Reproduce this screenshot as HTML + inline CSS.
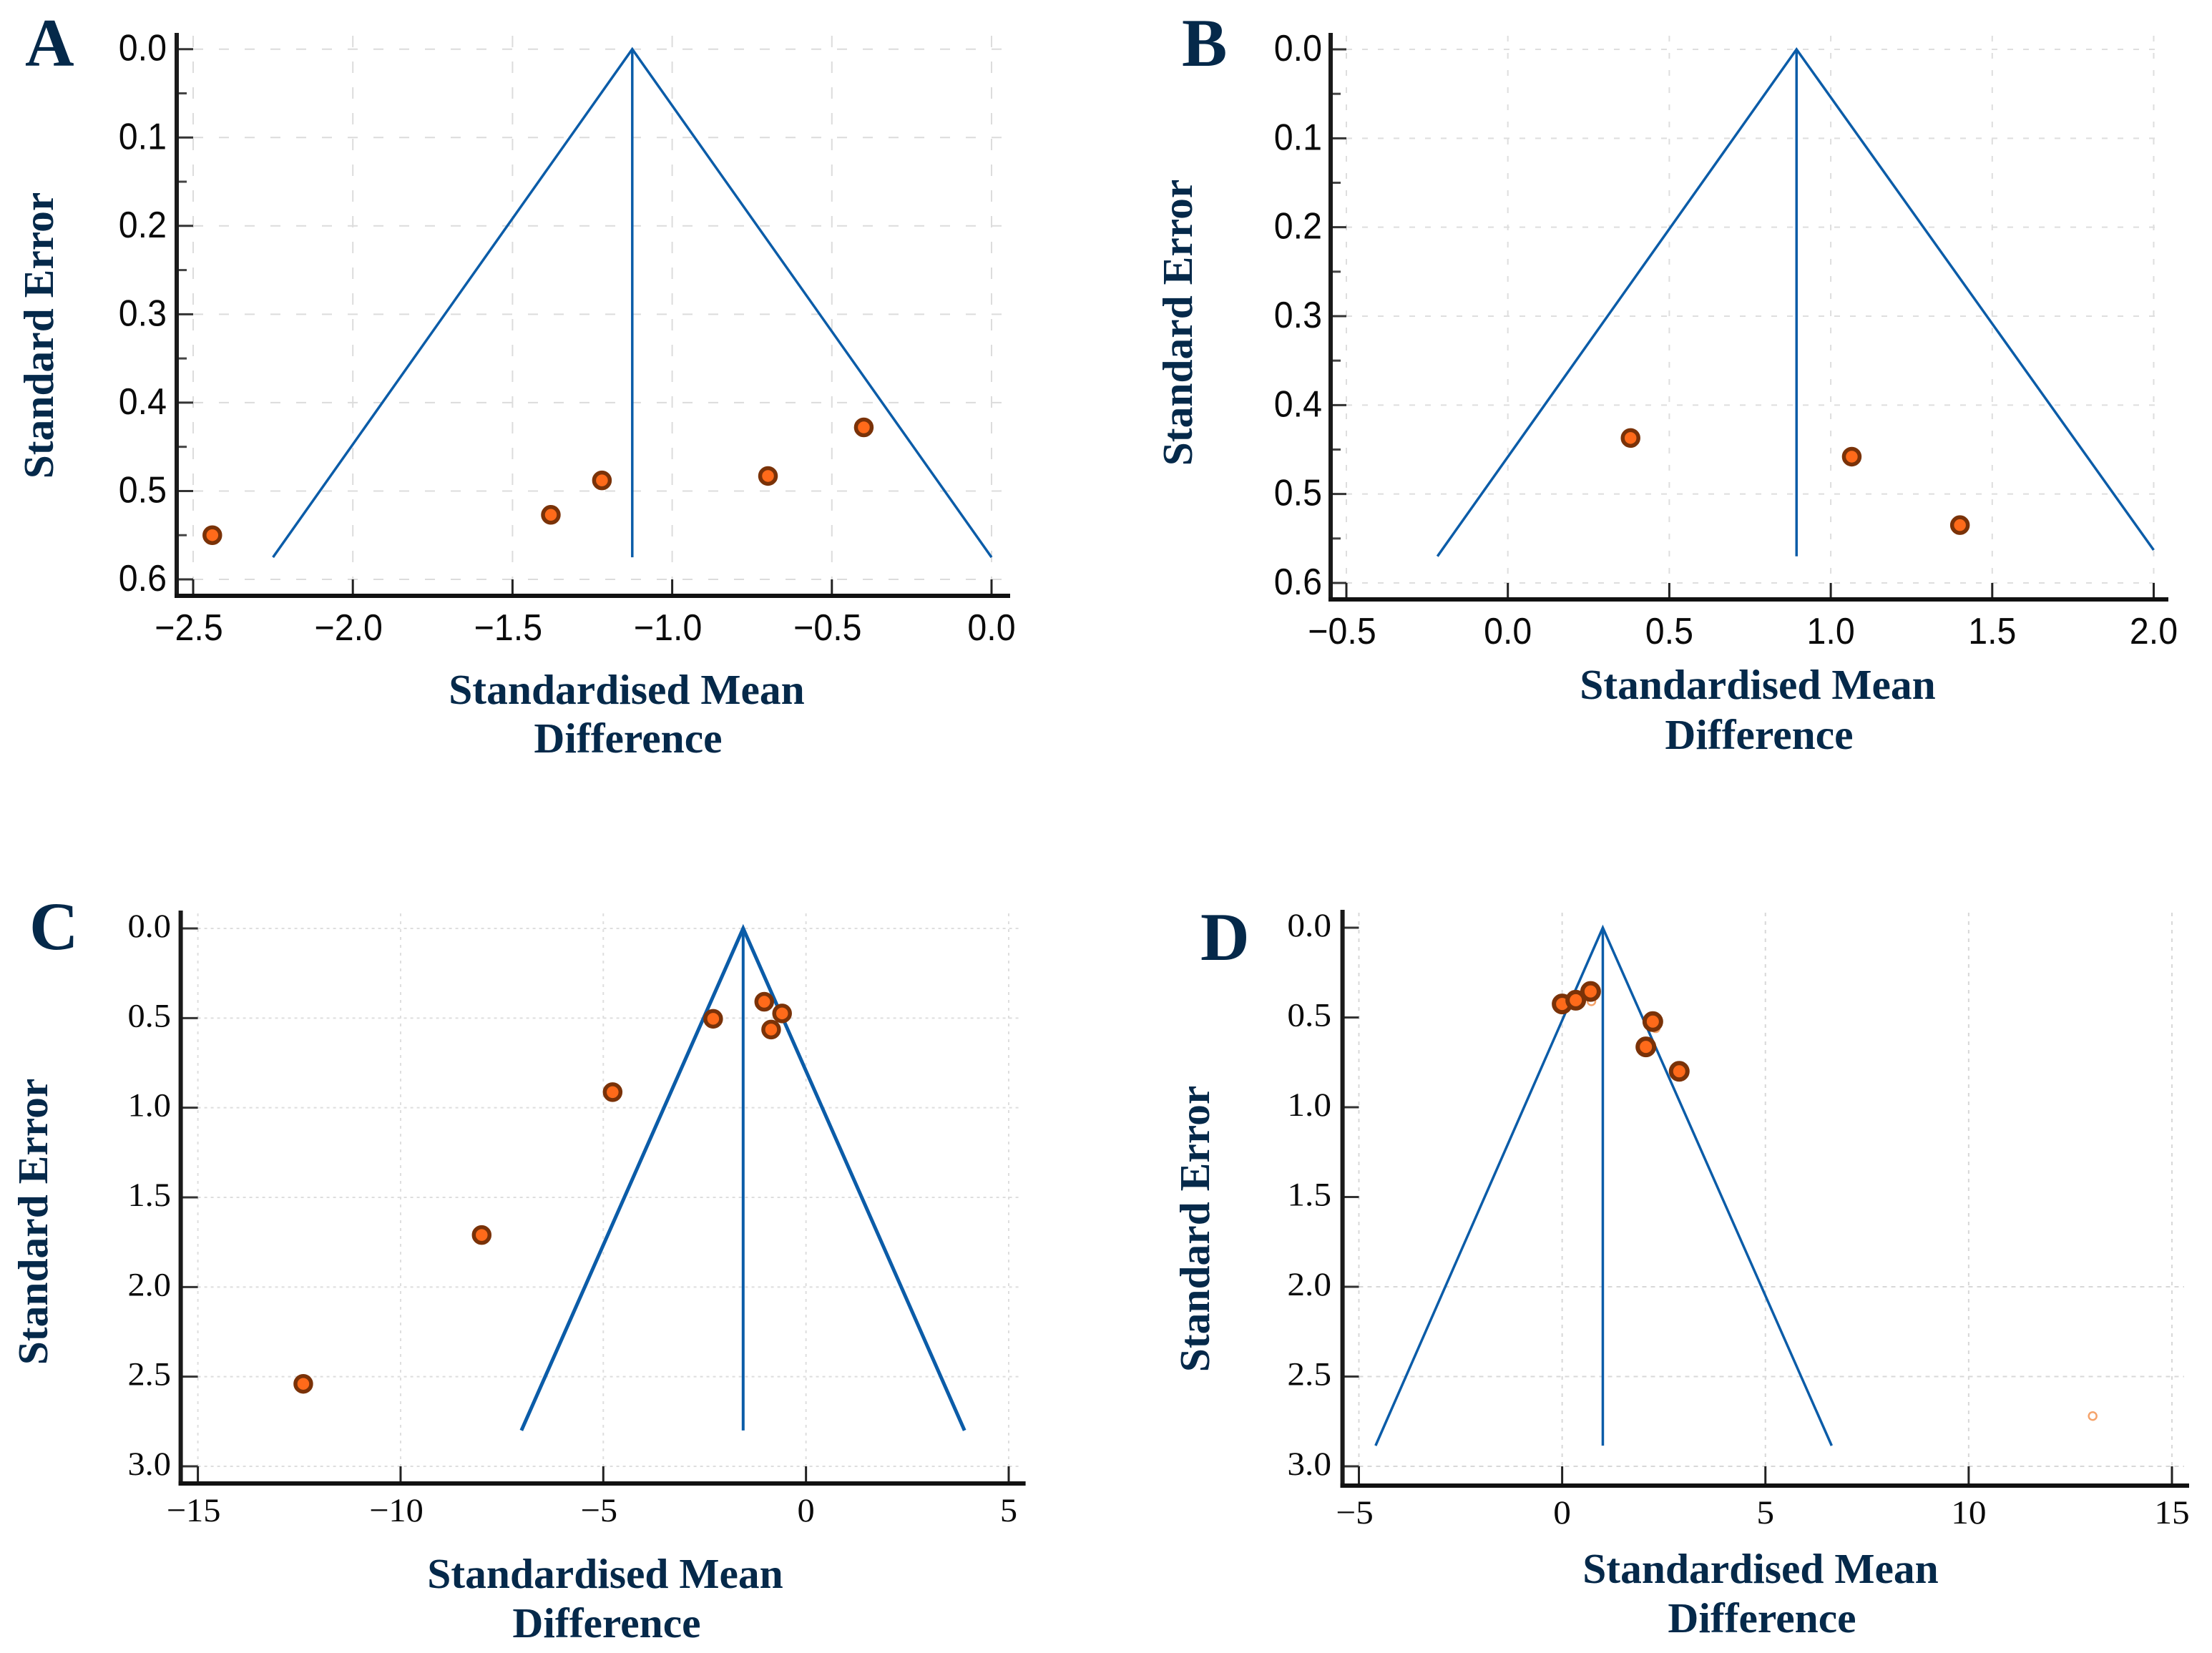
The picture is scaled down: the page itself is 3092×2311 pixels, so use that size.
<!DOCTYPE html>
<html lang="en">
<head>
<meta charset="utf-8">
<title>Funnel plots A–D</title>
<style>
html,body{margin:0;padding:0;background:#fff;}
svg{display:block;position:absolute;left:0;top:0;}
</style>
</head>
<body>
<svg id="figure" xmlns="http://www.w3.org/2000/svg" width="3092" height="2311" viewBox="0 0 3092 2311"></svg>
<script>
// ---- Panel A data ----
const aEffect = [-2.44, -1.38, -1.22, -0.70, -0.40];
const aSE = [0.55, 0.527, 0.488, 0.483, 0.428];
const aFunnelX = [-2.25, -1.125, 0.0];
const aFunnelSE = [0.575, 0, 0.575];
const aXTicks = [-2.5, -2.0, -1.5, -1.0, -0.5, 0.0];
const aXLabels = ["−2.5", "−2.0", "−1.5", "−1.0", "−0.5", "0.0"];
const aYTicks = [0, 0.1, 0.2, 0.3, 0.4, 0.5, 0.6];
const aYLabels = ["0.0", "0.1", "0.2", "0.3", "0.4", "0.5", "0.6"];
const aYMinor = [0.05, 0.15, 0.25, 0.35, 0.45, 0.55];
const aGridY = [0, 0.1, 0.2, 0.3, 0.4, 0.5, 0.6];

// ---- Panel B data ----
const bEffect = [0.38, 1.065, 1.40];
const bSE = [0.437, 0.458, 0.535];
const bFunnelX = [-0.218, 0.894, 2.0];
const bFunnelSE = [0.57, 0, 0.563];
const bXTicks = [-0.5, 0, 0.5, 1.0, 1.5, 2.0];
const bXLabels = ["−0.5", "0.0", "0.5", "1.0", "1.5", "2.0"];
const bYTicks = [0, 0.1, 0.2, 0.3, 0.4, 0.5, 0.6];
const bYLabels = ["0.0", "0.1", "0.2", "0.3", "0.4", "0.5", "0.6"];
const bYMinor = [0.05, 0.15, 0.25, 0.35, 0.45, 0.55];
const bGridY = [0, 0.1, 0.2, 0.3, 0.4, 0.5, 0.6];

// ---- Panel C data ----
const cEffect = [-12.4, -8.0, -4.77, -2.29, -1.03, -0.59, -0.86];
const cSE = [2.54, 1.71, 0.913, 0.504, 0.409, 0.474, 0.564];
const cFunnelX = [-7.02, -1.55, 3.91];
const cFunnelSE = [2.8, 0, 2.8];
const cXTicks = [-15, -10, -5, 0, 5];
const cXLabels = ["−15", "−10", "−5", "0", "5"];
const cYTicks = [0, 0.5, 1.0, 1.5, 2.0, 2.5, 3.0];
const cYLabels = ["0.0", "0.5", "1.0", "1.5", "2.0", "2.5", "3.0"];
const cYMinor = [];
const cGridY = [0, 0.5, 1.0, 1.5, 2.0, 2.5, 3.0];

// ---- Panel D data ----
const dEffect = [0, 0.335, 0.70, 2.23, 2.06, 2.88];
const dSE = [0.425, 0.404, 0.355, 0.523, 0.664, 0.80];
const dHollowEffect = [13.05, 0.72, 2.3];
const dHollowSE = [2.72, 0.41, 0.56];
const dFunnelX = [-4.59, 1.0, 6.63];
const dFunnelSE = [2.885, 0, 2.885];
const dXTicks = [-5, 0, 5, 10, 15];
const dXLabels = ["−5", "0", "5", "10", "15"];
const dYTicks = [0, 0.5, 1.0, 1.5, 2.0, 2.5, 3.0];
const dYLabels = ["0.0", "0.5", "1.0", "1.5", "2.0", "2.5", "3.0"];
const dYMinor = [];
const dGridY = [2.0, 2.5, 3.0];

const NS = "http://www.w3.org/2000/svg";
const figure = document.getElementById("figure");
const SANS = '"Liberation Sans", Arial, sans-serif';
const SERIF = '"Liberation Serif", "Times New Roman", serif';
const NAVY = "#05294a";
const BLUE = "#0b5ca8";

function make(tag, parent, props) {
  const el = document.createElementNS(NS, tag);
  for (const k in props) el.setAttribute(k, props[k]);
  parent.appendChild(el);
  return el;
}

function drawPanel(p) {
  // axis functions: calibrated from two reference ticks
  const xAxis = v => p.xPx0 + (v - p.xV0) * (p.xPx1 - p.xPx0) / (p.xV1 - p.xV0);
  const yAxis = v => p.yPx0 + (v - p.yV0) * (p.yPx1 - p.yPx0) / (p.yV1 - p.yV0);

  const g = make("g", figure, {});
  
  

  // gridlines
  p.gridY.forEach(v => {
    const l = make("line", g, {x1: xAxis(p.xTicks[0]), x2: p.right - 7, y1: yAxis(v), y2: yAxis(v), stroke: p.gridColor, "stroke-width": 2, "stroke-dasharray": p.gridDash});
    
    
  });
  p.xTicks.forEach(v => {
    const l = make("line", g, {x1: xAxis(v), x2: xAxis(v), y1: p.top + 4, y2: p.bottom, stroke: p.gridColor, "stroke-width": 2, "stroke-dasharray": p.gridDashV});
    
    
  });

  // funnel
  const funnelPts = p.funnelX.map((v, i) => xAxis(v) + "," + yAxis(p.funnelSE[i])).join(" ");
  const funnel = make("polyline", g, {points: funnelPts, fill: "none", stroke: BLUE, "stroke-width": p.lineW, "stroke-linejoin": "miter"});
  
  
  const mid = make("line", g, {x1: xAxis(p.funnelX[1]), x2: xAxis(p.funnelX[1]), y1: yAxis(0), y2: yAxis(Math.max(p.funnelSE[0], p.funnelSE[2])), stroke: BLUE, "stroke-width": p.midW});
  
  

  // ticks
  p.yTicks.forEach((v, i) => {
    const t = make("line", g, {x1: p.axisX, x2: xAxis(p.xTicks[0]), y1: yAxis(v), y2: yAxis(v), stroke: "#333", "stroke-width": 3});
    
    
    const lab = make("text", g, {transform: "translate(" + p.yLabelX + "," + (yAxis(v) + p.yLabelDy) + ") scale(" + p.labelScale + ",1)", "text-anchor": "end", "font-family": p.labelFont, "font-size": p.labelSize, fill: "#0a0a0a"});
    lab.textContent = p.yLabels[i];
    
    
  });
  p.yMinor.forEach(v => {
    const t = make("line", g, {x1: p.axisX, x2: p.axisX + 14, y1: yAxis(v), y2: yAxis(v), stroke: "#444", "stroke-width": 3});
    
    
  });
  p.xTicks.forEach((v, i) => {
    const t = make("line", g, {x1: xAxis(v), x2: xAxis(v), y1: p.bottom, y2: yAxis(p.yTicks[p.yTicks.length - 1]), stroke: "#222", "stroke-width": 3});
    
    
    const lab = make("text", g, {transform: "translate(" + (xAxis(v) + (v < 0 ? -6 : 0)) + "," + p.xLabelY + ") scale(" + p.labelScale + ",1)", "text-anchor": "middle", "font-family": p.labelFont, "font-size": p.labelSize, fill: "#0a0a0a"});
    lab.textContent = p.xLabels[i];
    
    
  });

  // axes
  const ya = make("line", g, {x1: p.axisX, x2: p.axisX, y1: p.top, y2: p.bottom + 3, stroke: "#1a1a1a", "stroke-width": 6});
  
  
  const xa = make("line", g, {x1: p.axisX - 3, x2: p.right, y1: p.bottom, y2: p.bottom, stroke: "#111", "stroke-width": 6});
  
  

  // hollow studies (trim and fill)
  (p.hollowEffect || []).forEach((v, i) => {
    const c = make("circle", g, {cx: xAxis(v), cy: yAxis(p.hollowSE[i]), r: 5.5, fill: "#fff", stroke: "#f5a36b", "stroke-width": 2.5});
    
    
  });
  // points
  p.effect.forEach((v, i) => {
    const c = make("circle", g, {cx: xAxis(v), cy: yAxis(p.se[i]), r: p.markerR, fill: "#ff6a1a", stroke: "#7a3208", "stroke-width": p.markerW});
    
    
  });

  // titles
  const letter = make("text", g, {x: p.letterX, y: p.letterY, "font-family": SERIF, "font-weight": "bold", "font-size": 95, fill: NAVY});
  letter.textContent = p.id.toUpperCase();
  
  

  const yt = make("text", g, {transform: "translate(" + p.yTitleX + "," + p.yTitleY + ") rotate(-90)", "text-anchor": "middle", "font-family": SERIF, "font-weight": "bold", "font-size": 59.5, fill: NAVY});
  yt.textContent = "Standard Error";
  
  

  const xt1 = make("text", g, {x: p.xTitleX, y: p.xTitleY1, "text-anchor": "middle", "font-family": SERIF, "font-weight": "bold", "font-size": 59.5, fill: NAVY});
  xt1.textContent = "Standardised Mean";
  
  
  const xt2 = make("text", g, {x: p.xTitleX + 2, y: p.xTitleY2, "text-anchor": "middle", "font-family": SERIF, "font-weight": "bold", "font-size": 59.5, fill: NAVY});
  xt2.textContent = "Difference";
  
  
}

drawPanel({id: "a", effect: aEffect, se: aSE, funnelX: aFunnelX, funnelSE: aFunnelSE,
  xTicks: aXTicks, xLabels: aXLabels, yTicks: aYTicks, yLabels: aYLabels, yMinor: aYMinor, gridY: aGridY,
  xV0: -2.5, xV1: 0, xPx0: 270, xPx1: 1386, yV0: 0, yV1: 0.6, yPx0: 68.7, yPx1: 810,
  axisX: 247, top: 46, bottom: 833, right: 1412,
  labelFont: SANS, labelSize: 52, labelScale: 0.93, yLabelX: 233, yLabelDy: 16, xLabelY: 895,
  gridColor: "#dcdcdc", gridDash: "14 22", gridDashV: "16 20", lineW: 3.5, midW: 3.5, markerR: 11, markerW: 5.5,
  letterX: 35, letterY: 92, yTitleX: 74, yTitleY: 469, xTitleX: 876, xTitleY1: 984, xTitleY2: 1052});

drawPanel({id: "b", effect: bEffect, se: bSE, funnelX: bFunnelX, funnelSE: bFunnelSE,
  xTicks: bXTicks, xLabels: bXLabels, yTicks: bYTicks, yLabels: bYLabels, yMinor: bYMinor, gridY: bGridY,
  xV0: -0.5, xV1: 2.0, xPx0: 1882, xPx1: 3010.5, yV0: 0, yV1: 0.6, yPx0: 69, yPx1: 815,
  axisX: 1860, top: 46, bottom: 838, right: 3031,
  labelFont: SANS, labelSize: 52, labelScale: 0.93, yLabelX: 1848, yLabelDy: 16, xLabelY: 900,
  gridColor: "#dedede", gridDash: "8 14", gridDashV: "8 16", lineW: 3.5, midW: 3.5, markerR: 11, markerW: 5.5,
  letterX: 1652, letterY: 92, yTitleX: 1666, yTitleY: 451, xTitleX: 2457, xTitleY1: 977, xTitleY2: 1047});

drawPanel({id: "c", effect: cEffect, se: cSE, funnelX: cFunnelX, funnelSE: cFunnelSE,
  xTicks: cXTicks, xLabels: cXLabels, yTicks: cYTicks, yLabels: cYLabels, yMinor: cYMinor, gridY: cGridY,
  xV0: -15, xV1: 5, xPx0: 276.6, xPx1: 1410, yV0: 0, yV1: 3, yPx0: 1298, yPx1: 2050,
  axisX: 252.6, top: 1273, bottom: 2074, right: 1433.6,
  labelFont: SERIF, labelSize: 47, labelScale: 1.03, yLabelX: 239, yLabelDy: 12, xLabelY: 2127,
  gridColor: "#dedede", gridDash: "4 5", gridDashV: "4 7", lineW: 5, midW: 4, markerR: 11, markerW: 5.5,
  letterX: 41, letterY: 1327, yTitleX: 66, yTitleY: 1708, xTitleX: 846, xTitleY1: 2220, xTitleY2: 2289});

drawPanel({id: "d", effect: dEffect, se: dSE, hollowEffect: dHollowEffect, hollowSE: dHollowSE, funnelX: dFunnelX, funnelSE: dFunnelSE,
  xTicks: dXTicks, xLabels: dXLabels, yTicks: dYTicks, yLabels: dYLabels, yMinor: dYMinor, gridY: dGridY,
  xV0: -5, xV1: 15, xPx0: 1899.5, xPx1: 3036, yV0: 0, yV1: 3, yPx0: 1297, yPx1: 2050,
  axisX: 1876.6, top: 1272, bottom: 2077, right: 3060,
  labelFont: SERIF, labelSize: 47, labelScale: 1.05, yLabelX: 1861, yLabelDy: 12, xLabelY: 2130,
  gridColor: "#d8d8d8", gridDash: "6 6", gridDashV: "5 7", lineW: 3.5, midW: 3.5, markerR: 11.5, markerW: 6,
  letterX: 1678, letterY: 1342, yTitleX: 1690, yTitleY: 1718, xTitleX: 2461, xTitleY1: 2213, xTitleY2: 2282});
</script>
</body>
</html>
